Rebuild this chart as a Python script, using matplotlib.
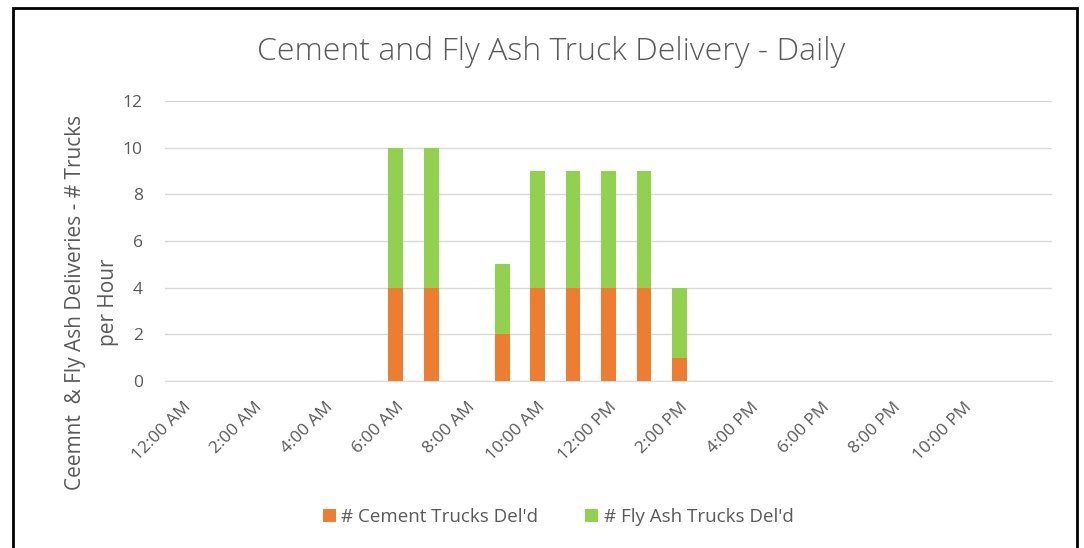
import numpy as np
import matplotlib.pyplot as plt
from matplotlib.patches import Rectangle

# hourly categories, 12:00 AM through next 12:00 AM
hours = list(range(25))
tick_hours = list(range(0, 24, 2))
tick_labels = ['12:00 AM', '2:00 AM', '4:00 AM', '6:00 AM', '8:00 AM', '10:00 AM',
               '12:00 PM', '2:00 PM', '4:00 PM', '6:00 PM', '8:00 PM', '10:00 PM']

# trucks per hour (only hours with deliveries are non-zero)
cement = [0, 0, 0, 0, 0, 0, 4, 4, 0, 2, 4, 4, 4, 4, 1, 0, 0, 0, 0, 0, 0, 0, 0, 0, 0]
fly_ash = [0, 0, 0, 0, 0, 0, 6, 6, 0, 3, 5, 5, 5, 5, 3, 0, 0, 0, 0, 0, 0, 0, 0, 0, 0]

plt.rcParams['font.family'] = ['Open Sans', 'DejaVu Sans']
grey = '#595959'

fig = plt.figure(figsize=(10.84, 5.48), dpi=100)
ax = fig.add_axes([165 / 1084, 1 - 381 / 548, (1052 - 165) / 1084, 280 / 548])

x = np.array(hours)
c = np.array(cement)
f = np.array(fly_ash)
ax.bar(x, c, width=0.42, color='#ED7D31', label="# Cement Trucks Del'd", zorder=3)
ax.bar(x, f, width=0.42, bottom=c, color='#92D050', label="# Fly Ash Trucks Del'd", zorder=3)

ax.set_xlim(-0.5, 24.5)
ax.set_ylim(0, 12)
ax.set_yticks(range(0, 13, 2))
ax.set_xticks(tick_hours)
ax.set_xticklabels(tick_labels, rotation=45, ha='right', rotation_mode='anchor')
ax.tick_params(axis='both', length=0, colors=grey, labelsize=12.5)
ax.tick_params(axis='x', pad=13)
ax.tick_params(axis='y', pad=16)
ax.grid(axis='y', color='#d9d9d9', linewidth=1, zorder=0)
for s in ['top', 'right', 'left']:
    ax.spines[s].set_visible(False)
ax.spines['bottom'].set_color('#d9d9d9')

ax.text(-0.082, 0.28, "Ceemnt  & Fly Ash Deliveries - # Trucks\nper Hour", transform=ax.transAxes,
        rotation=90, ha='center', va='center', multialignment='center', fontsize=15,
        color=grey, linespacing=1.75)

fig.text(0.508, 0.905, 'Cement and Fly Ash Truck Delivery - Daily', ha='center', va='center',
         fontsize=23, color=grey, fontweight='light')

fig.legend(loc='center', bbox_to_anchor=(0.515, 0.057), ncol=2, frameon=False,
           fontsize=13.5, labelcolor=grey, handlelength=0.7, handleheight=0.7,
           handletextpad=0.3, columnspacing=2.5)

# outer chart border
fig.patches.append(Rectangle((13 / 1084, -0.01), (1077 - 13) / 1084, 1 - 8 / 548 + 0.01,
                             transform=fig.transFigure, fill=False, edgecolor='black',
                             linewidth=2))

fig.savefig('out.png', dpi=100)
